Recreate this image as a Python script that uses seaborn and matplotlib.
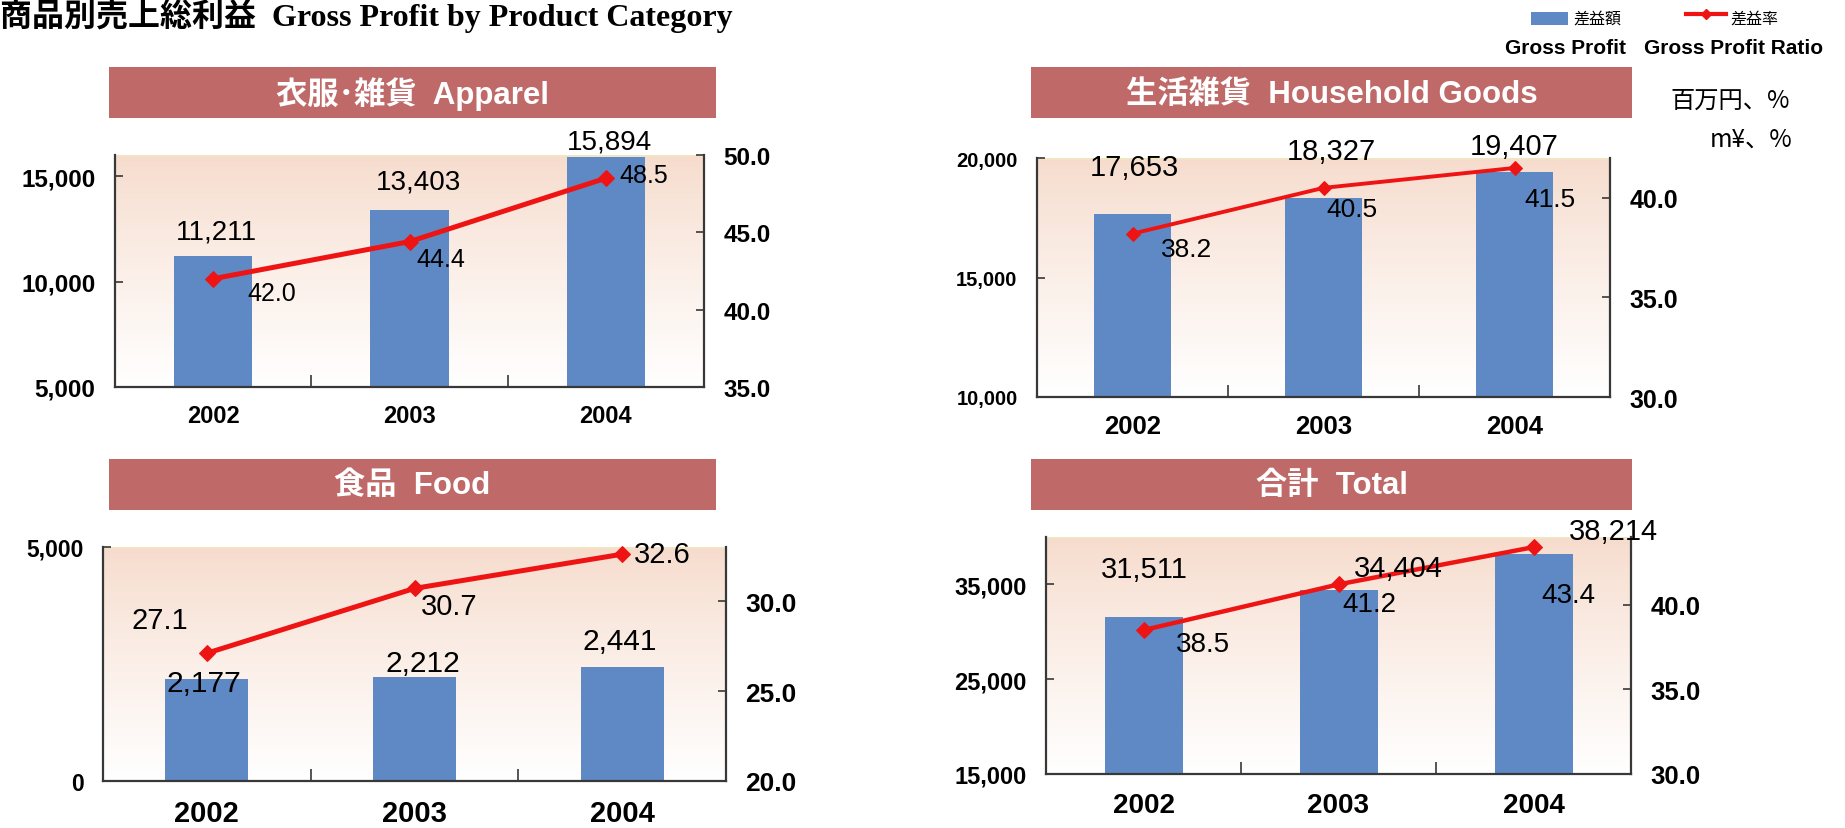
import numpy as np
import matplotlib
matplotlib.use('Agg')
import matplotlib.pyplot as plt
import seaborn as sns
from matplotlib.patches import Rectangle
from matplotlib.lines import Line2D
from matplotlib.ticker import FuncFormatter

# 商品別売上総利益 (百万円、%)
years = ['2002', '2003', '2004']

apparel_profit = [11211, 13403, 15894]
apparel_ratio = [42.0, 44.4, 48.5]
household_profit = [17653, 18327, 19407]
household_ratio = [38.2, 40.5, 41.5]
food_profit = [2177, 2212, 2441]
food_ratio = [27.1, 30.7, 32.6]
total_profit = [31511, 34404, 38214]
total_ratio = [38.5, 41.2, 43.4]

titles = ['衣服･雑貨  Apparel', '生活雑貨  Household Goods', '食品  Food', '合計  Total']

BAR = '#5F89C4'
RED = '#EE1414'
HEAD = '#BF6969'
AXC = '#383838'

W, H = 1845, 829
plt.rcParams['font.family'] = ['Liberation Sans', 'Noto Sans CJK JP', 'DejaVu Sans']
plt.rcParams['font.weight'] = 'bold'

fig = plt.figure(figsize=(W / 100, H / 100), dpi=100)


def fx(x):
    return x / W


def fy(y):
    return 1 - y / H


# 各パネルの配置とスタイル (ピクセル座標)
panels = [
    dict(profit=apparel_profit, ratio=apparel_ratio, title=titles[0],
         box=(115, 156, 704, 388), head=(109, 68, 716, 119),
         ylim=(5000, 16000), yticks=[5000, 10000, 15000],
         rlim=(35, 50), rticks=[35, 40, 45, 50],
         fs_l=17.5, fs_r=17.5, fs_x=17, fs_b=20, fs_r_lab=18, lw=3.6, ms=8.5, xpad=12,
         boff=[(3, 12), (9, 15), (4, 3)], roff=[(34, -14), (7, -17), (14, 3)]),
    dict(profit=household_profit, ratio=household_ratio, title=titles[1],
         box=(1037, 159, 1610, 398), head=(1031, 68, 1632, 119),
         ylim=(10000, 20000), yticks=[10000, 15000, 20000],
         rlim=(30, 42), rticks=[30, 35, 40],
         fs_l=14.5, fs_r=18, fs_x=18.5, fs_b=21, fs_r_lab=19, lw=2.8, ms=7, xpad=12,
         boff=[(2, 33), (8, 33), (0, 12)], roff=[(28, -15), (3, -21), (10, -31)]),
    dict(profit=food_profit, ratio=food_ratio, title=titles[2],
         box=(103, 548, 726, 782), head=(109, 460, 716, 511),
         ylim=(0, 5000), yticks=[0, 5000],
         rlim=(20, 33), rticks=[20, 25, 30],
         fs_l=16.5, fs_r=19, fs_x=21, fs_b=21.5, fs_r_lab=21, lw=3.6, ms=8.5, xpad=13,
         boff=[(-3, -18), (8, 0), (-2, 12)], roff=[(-75, 33), (6, -18), (12, 0)]),
    dict(profit=total_profit, ratio=total_ratio, title=titles[3],
         box=(1046, 538, 1631, 775), head=(1031, 460, 1632, 511),
         ylim=(15000, 40000), yticks=[15000, 25000, 35000],
         rlim=(30, 44), rticks=[30, 35, 40],
         fs_l=17, fs_r=18.5, fs_x=20, fs_b=21, fs_r_lab=20, lw=3.2, ms=8.5, xpad=13,
         boff=[(1, 34), (60, 8), (80, 9)], roff=[(32, -14), (4, -20), (8, -48)]),
]

# 背景グラデーション
t = np.linspace(0, 1, 256)[:, None] ** 0.85
top = np.array([0.965, 0.86, 0.80])
grad = (top[None, None, :] * (1 - t[..., None]) + np.ones(3)[None, None, :] * t[..., None])

for p in panels:
    x0, y0, x1, y1 = p['box']
    ax = fig.add_axes([fx(x0), fy(y1), (x1 - x0) / W, (y1 - y0) / H])
    ax.imshow(grad, extent=[0, 1, 0, 1], transform=ax.transAxes, aspect='auto', zorder=0)

    sns.barplot(x=years, y=p['profit'], color=BAR, saturation=1, width=0.4, ax=ax, zorder=2)
    ax.set_xlim(-0.5, 2.5)
    ax.set_ylim(*p['ylim'])
    ax.set_yticks(p['yticks'])
    ax.yaxis.set_major_formatter(FuncFormatter(lambda v, pos: f'{v:,.0f}'))
    ax.set_xlabel('')
    ax.set_ylabel('')
    ax.set_xticks([0.5, 1.5], minor=True)
    ax.tick_params(axis='x', which='major', length=0, pad=p['xpad'], labelsize=p['fs_x'])
    ax.tick_params(axis='x', which='minor', direction='in', length=9, width=1.2, color=AXC)
    ax.tick_params(axis='y', direction='in', length=6, width=1.2, color=AXC, pad=14,
                   labelsize=p['fs_l'])
    for s in ['top', 'right']:
        ax.spines[s].set_visible(False)
    for s in ['left', 'bottom']:
        ax.spines[s].set_color(AXC)
        ax.spines[s].set_linewidth(1.6)
    ax.add_line(Line2D([0, 1], [1, 1], transform=ax.transAxes, color='#F3E4C4', lw=2, zorder=1))

    ax2 = ax.twinx()
    sns.lineplot(x=np.arange(len(years)), y=p['ratio'], ax=ax2, color=RED, lw=p['lw'],
                 marker='D', markersize=p['ms'], markeredgecolor=RED, clip_on=False)
    ax2.set_ylim(*p['rlim'])
    ax2.set_yticks(p['rticks'])
    ax2.yaxis.set_major_formatter(FuncFormatter(lambda v, pos: f'{v:.1f}'))
    ax2.set_ylabel('')
    ax2.tick_params(axis='y', direction='in', length=6, width=1.2, color=AXC, pad=14,
                    labelsize=p['fs_r'])
    for s in ['top', 'left', 'bottom']:
        ax2.spines[s].set_visible(False)
    ax2.spines['right'].set_color(AXC)
    ax2.spines['right'].set_linewidth(1.6)
    ax2.set_xlim(-0.5, 2.5)

    # データラベル
    for i, v in enumerate(p['profit']):
        dx, dy = p['boff'][i]
        ax2.annotate(f'{v:,}', xy=(i, v), xycoords=ax.transData, xytext=(dx, dy),
                     textcoords='offset pixels', ha='center', va='bottom',
                     fontsize=p['fs_b'], weight='normal', zorder=5, annotation_clip=False)
    for i, r in enumerate(p['ratio']):
        dx, dy = p['roff'][i]
        ax2.annotate(f'{r:.1f}', xy=(i, r), xytext=(dx, dy), textcoords='offset pixels',
                     ha='left', va='center', fontsize=p['fs_r_lab'], weight='normal',
                     zorder=5, annotation_clip=False)

    # 見出しバー
    hx0, hy0, hx1, hy1 = p['head']
    fig.add_artist(Rectangle((fx(hx0), fy(hy1)), (hx1 - hx0) / W, (hy1 - hy0) / H,
                             transform=fig.transFigure, color=HEAD, lw=0))
    fig.text(fx((hx0 + hx1) / 2), fy((hy0 + hy1) / 2 + 1), p['title'], color='white',
             fontsize=22.5, ha='center', va='center')

# タイトル
fig.text(0.0, fy(26), '商品別売上総利益  Gross Profit by Product Category',
         family=['Liberation Serif', 'Noto Sans CJK JP'], fontsize=23, weight='bold',
         va='baseline', ha='left')

# 凡例
fig.add_artist(Rectangle((fx(1531), fy(26)), 37 / W, 13 / H, transform=fig.transFigure,
                         color=BAR, lw=0))
fig.text(fx(1573), fy(19), '差益額', family=['Noto Sans CJK JP'], weight='normal',
         fontsize=11.5, va='center', ha='left')
fig.add_artist(Line2D([fx(1686), fx(1726)], [fy(15), fy(15)], transform=fig.transFigure,
                      color=RED, lw=3))
fig.add_artist(Line2D([fx(1706)], [fy(15)], transform=fig.transFigure, color=RED,
                      marker='D', ms=5.5, lw=0))
fig.text(fx(1730), fy(19), '差益率', family=['Noto Sans CJK JP'], weight='normal',
         fontsize=11.5, va='center', ha='left')
fig.text(fx(1505), fy(49), 'Gross Profit', fontsize=15, va='center', ha='left')
fig.text(fx(1644), fy(49), 'Gross Profit Ratio', fontsize=15, va='center', ha='left')
fig.text(fx(1790), fy(101), '百万円、%', family=['Noto Sans CJK JP'], weight='normal',
         fontsize=17.5, va='center', ha='right')
fig.text(fx(1792), fy(140), 'm¥、%', family=['Noto Sans CJK JP'], weight='normal',
         fontsize=17.5, va='center', ha='right')

fig.savefig('out.png', dpi=100)
